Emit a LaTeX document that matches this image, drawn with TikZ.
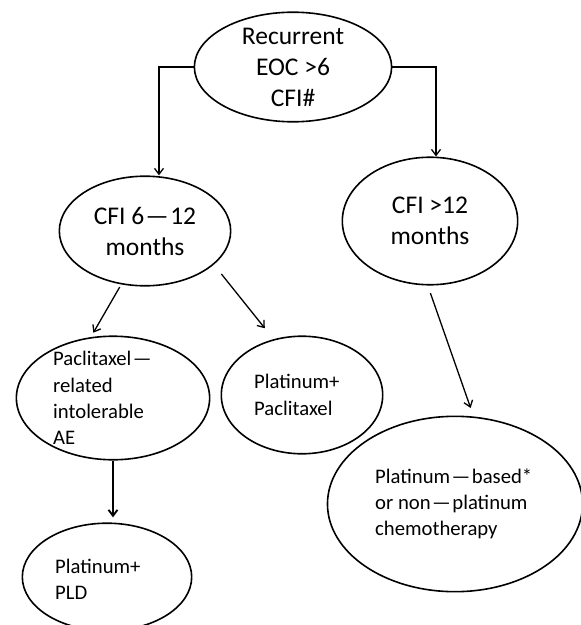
\documentclass[tikz,border=0pt]{standalone}
\usepackage{fontspec}
\setmainfont{Carlito}
\usetikzlibrary{arrows.meta, shapes.geometric}

\newcommand{\dsh}{\kern1.5bp—\kern1.5bp}

\tikzset{
  oval/.style={draw=black, ellipse, line width=1.6bp, inner sep=0},
  txt/.style={inner sep=0, font=\fontsize{25.5bp}{31bp}\selectfont, align=center},
  smalltxt/.style={inner sep=0, font=\fontsize{20.7bp}{26.3bp}\selectfont, align=left, anchor=west},
  arr/.style={-{Straight Barb[length=6bp, width=9bp]}, line width=1.3bp}
}

\begin{document}
\begin{tikzpicture}[x=1bp, y=-1bp]
\useasboundingbox (0, 0) rectangle (581, 625);

\node [oval, minimum width=198, minimum height=110] (top) at (293, 67) {};
\node [txt] (top-txt) at (top) {Recurrent\\EOC >6\\CFI\#};

\node [oval, minimum width=172, minimum height=110] (cfi6) at (145, 231) {};
\node [txt] (cfi6-txt) at (cfi6) {CFI 6\dsh12\\months};
\node [oval, minimum width=176, minimum height=128] (cfi12) at (430, 221) {};
\node [txt] (cfi12-txt) at (cfi12) {CFI >12\\months};

\node [oval, minimum width=194, minimum height=124] (pacl) at (113, 398) {};
\node [smalltxt, xshift=-60bp] (pacl-txt) at (pacl) {Paclitaxel\dsh\\related\\intolerable\\AE};
\node [oval, minimum width=162, minimum height=118] (pp) at (302, 395) {};
\node [smalltxt, xshift=-48bp] (pp-txt) at (pp) {Platinum+\\Paclitaxel};
\node [oval, minimum width=170, minimum height=108] (pld) at (107, 577) {};
\node [smalltxt, xshift=-52bp, yshift=-2bp] (pld-txt) at (pld) {Platinum+\\PLD};
\node [oval, minimum width=256, minimum height=176] (pb) at (455, 504) {};
\node [smalltxt, xshift=-80bp] (pb-txt) at (pb) {Platinum\dsh based*\\or non\dsh platinum\\chemotherapy};

\draw [arr] (top.west) -| ([xshift=14bp]cfi6.north);
\draw [arr] (top.east) -| ([xshift=6bp]cfi12.north);
\draw [arr, shorten <=3bp, shorten >=5bp] (cfi6.246) -- (pacl.110);
\draw [arr, shorten <=12bp, shorten >=14bp] (cfi6.334) -- (pp.117);
\draw [arr, shorten <=8bp, shorten >=9bp] (cfi12.268) -- (pb.78);
\draw [arr, line width=1.9bp, shorten >=5bp] (pacl.south) -- (pacl.south |- pld.north);

\end{tikzpicture}
\end{document}
